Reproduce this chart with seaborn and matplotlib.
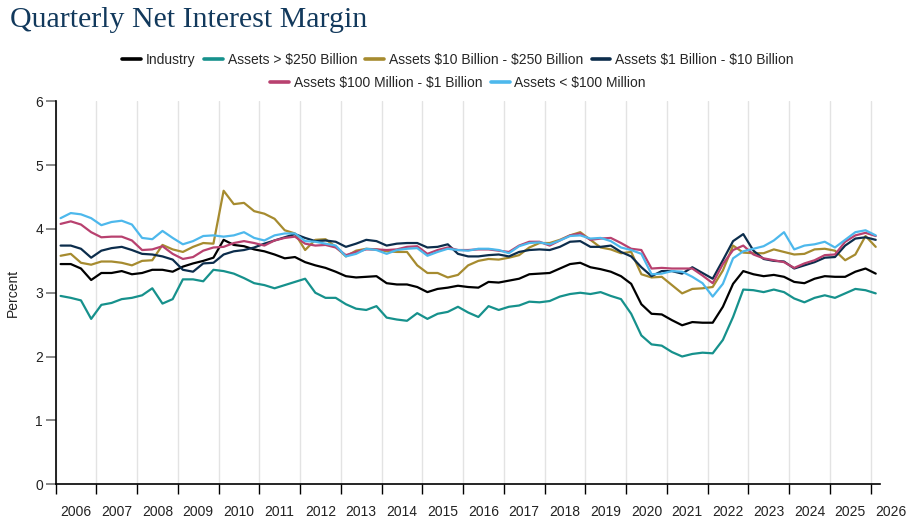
import numpy as np
import pandas as pd
import matplotlib
matplotlib.use("Agg")
import matplotlib.pyplot as plt
from matplotlib.lines import Line2D
from matplotlib.transforms import blended_transform_factory
import seaborn as sns

# quarters 2006Q1 .. 2026Q1
quarters = pd.period_range("2006Q1", "2026Q1", freq="Q")

industry = [3.45, 3.45, 3.38, 3.20, 3.31, 3.31, 3.34, 3.29, 3.31, 3.36, 3.36, 3.33, 3.41, 3.46, 3.50, 3.55, 3.83,
            3.75, 3.73, 3.68, 3.65, 3.60, 3.54, 3.56, 3.48, 3.43, 3.39, 3.33, 3.26, 3.24, 3.25, 3.26, 3.15, 3.13,
            3.13, 3.09, 3.01, 3.06, 3.08, 3.11, 3.09, 3.08, 3.17, 3.16, 3.19, 3.22, 3.29, 3.30, 3.31, 3.38, 3.45,
            3.47, 3.40, 3.37, 3.33, 3.26, 3.14, 2.82, 2.67, 2.66, 2.57, 2.49, 2.54, 2.53, 2.53, 2.78, 3.14,
            3.34, 3.29, 3.26, 3.28, 3.25, 3.17, 3.15, 3.22, 3.26, 3.25, 3.25, 3.33, 3.38, 3.30]

over_250b = [2.95, 2.92, 2.88, 2.59, 2.81, 2.84, 2.90, 2.92, 2.96, 3.07, 2.83, 2.90, 3.21, 3.21, 3.18, 3.36, 3.34,
             3.30, 3.23, 3.15, 3.12, 3.07, 3.12, 3.17, 3.22, 3.00, 2.92, 2.92, 2.82, 2.75, 2.73, 2.79, 2.61, 2.58,
             2.56, 2.68, 2.59, 2.67, 2.70, 2.78, 2.69, 2.62, 2.79, 2.73, 2.78, 2.80, 2.86, 2.85, 2.87, 2.94, 2.98,
             3.00, 2.98, 3.01, 2.95, 2.90, 2.67, 2.33, 2.19, 2.17, 2.07, 2.00, 2.04, 2.06, 2.05, 2.26, 2.62,
             3.05, 3.04, 3.01, 3.05, 3.01, 2.91, 2.85, 2.92, 2.96, 2.92, 2.99, 3.06, 3.04, 2.99]

b10_250 = [3.58, 3.61, 3.47, 3.44, 3.49, 3.49, 3.47, 3.43, 3.50, 3.51, 3.75, 3.68, 3.64, 3.72, 3.78, 3.77, 4.60,
           4.39, 4.41, 4.28, 4.24, 4.16, 3.98, 3.93, 3.67, 3.83, 3.84, 3.72, 3.57, 3.66, 3.69, 3.68, 3.65, 3.64,
           3.64, 3.43, 3.31, 3.31, 3.24, 3.28, 3.43, 3.50, 3.53, 3.52, 3.55, 3.59, 3.71, 3.78, 3.78, 3.83, 3.90,
           3.95, 3.83, 3.71, 3.68, 3.62, 3.64, 3.29, 3.24, 3.25, 3.12, 2.99, 3.06, 3.07, 3.09, 3.35, 3.74,
           3.63, 3.62, 3.62, 3.68, 3.64, 3.60, 3.61, 3.68, 3.69, 3.66, 3.51, 3.60, 3.89, 3.72]

b1_10 = [3.74, 3.74, 3.69, 3.55, 3.66, 3.70, 3.72, 3.67, 3.61, 3.60, 3.57, 3.52, 3.36, 3.33, 3.46, 3.47, 3.60,
         3.65, 3.67, 3.71, 3.77, 3.82, 3.87, 3.92, 3.86, 3.81, 3.82, 3.80, 3.72, 3.77, 3.83, 3.81, 3.74, 3.77,
         3.78, 3.78, 3.71, 3.72, 3.76, 3.61, 3.57, 3.57, 3.59, 3.60, 3.57, 3.64, 3.67, 3.68, 3.67, 3.72, 3.80,
         3.81, 3.72, 3.72, 3.74, 3.64, 3.57, 3.40, 3.26, 3.34, 3.34, 3.30, 3.40, 3.31, 3.22, 3.51, 3.81,
         3.92, 3.66, 3.53, 3.50, 3.49, 3.38, 3.43, 3.48, 3.55, 3.56, 3.74, 3.85, 3.87, 3.83]

m100_1b = [4.08, 4.12, 4.07, 3.95, 3.87, 3.88, 3.88, 3.82, 3.67, 3.68, 3.73, 3.61, 3.53, 3.56, 3.66, 3.71, 3.72,
           3.78, 3.81, 3.78, 3.74, 3.82, 3.86, 3.88, 3.77, 3.74, 3.75, 3.71, 3.59, 3.64, 3.68, 3.68, 3.67, 3.68,
           3.72, 3.73, 3.61, 3.67, 3.71, 3.67, 3.67, 3.68, 3.68, 3.66, 3.64, 3.74, 3.80, 3.80, 3.74, 3.82, 3.90,
           3.93, 3.83, 3.85, 3.86, 3.78, 3.69, 3.67, 3.38, 3.39, 3.38, 3.38, 3.38, 3.27, 3.15, 3.45, 3.67,
           3.74, 3.60, 3.54, 3.51, 3.48, 3.39, 3.46, 3.51, 3.59, 3.60, 3.80, 3.90, 3.94, 3.89]

under_100m = [4.17, 4.25, 4.23, 4.17, 4.06, 4.11, 4.13, 4.07, 3.86, 3.84, 3.97, 3.86, 3.76, 3.81, 3.89, 3.90, 3.88,
              3.90, 3.95, 3.86, 3.82, 3.90, 3.93, 3.93, 3.81, 3.80, 3.77, 3.74, 3.57, 3.61, 3.69, 3.67, 3.61, 3.67,
              3.69, 3.70, 3.58, 3.64, 3.69, 3.67, 3.66, 3.69, 3.69, 3.67, 3.62, 3.73, 3.78, 3.79, 3.76, 3.82, 3.89,
              3.90, 3.85, 3.86, 3.81, 3.71, 3.67, 3.61, 3.29, 3.30, 3.34, 3.33, 3.25, 3.15, 2.94, 3.14, 3.54,
              3.65, 3.69, 3.73, 3.82, 3.95, 3.68, 3.74, 3.76, 3.80, 3.71, 3.83, 3.95, 3.98, 3.90]

series_names = ["Industry", "Assets > $250 Billion", "Assets $10 Billion - $250 Billion",
                "Assets $1 Billion - $10 Billion", "Assets $100 Million - $1 Billion", "Assets < $100 Million"]
series_values = [industry, over_250b, b10_250, b1_10, m100_1b, under_100m]
colors = ["#000000", "#16918c", "#a68b2f", "#0c2d4c", "#b8416f", "#4db8ec"]
years = list(range(2006, 2027))

# mid-quarter position on a year axis
xpos = quarters.year + (quarters.quarter - 0.5) / 4

df = pd.concat([pd.DataFrame({"x": xpos, "value": v, "series": n})
                for n, v in zip(series_names, series_values)], ignore_index=True)

sns.set_theme(style="white")
plt.rcParams["font.family"] = ["Liberation Sans", "DejaVu Sans"]

fig = plt.figure(figsize=(9.09, 5.23), dpi=100)
ax = fig.add_axes([55.5 / 909, 1 - 484 / 523, 824.5 / 909, 382.5 / 523])

sns.lineplot(data=df, x="x", y="value", hue="series", hue_order=series_names,
             palette=dict(zip(series_names, colors)), linewidth=1.6, legend=False, ax=ax)

ax.set_xlim(2006, 2026.23)
ax.set_ylim(0, 6)
ax.set_xticks(years)
ax.set_xticklabels([])
ax.set_yticks(range(0, 7))
ax.grid(axis="x", color="#e3e3e3", linewidth=1)
ax.grid(axis="y", visible=False)
ax.tick_params(axis="x", direction="out", length=7, width=1, color="black", bottom=True)
ax.tick_params(axis="y", direction="out", length=7, width=1.4, color="#888888", left=True,
               labelsize=10, labelcolor="#222222", pad=2)
for s in ["top", "right"]:
    ax.spines[s].set_visible(False)
for s in ["left", "bottom"]:
    ax.spines[s].set_color("black")
    ax.spines[s].set_linewidth(1.2)

trans = blended_transform_factory(ax.transData, ax.transAxes)
for yr in years:
    ax.text(yr + 0.5, -0.072, str(yr), transform=trans, ha="center", va="center",
            fontsize=10, color="#222222", clip_on=False)

ax.set_xlabel("")
ax.set_ylabel("Percent", fontsize=10, color="#222222")
ax.yaxis.set_label_coords(-0.043, 0.5)

fig.text(0.011, 1 - 27 / 523, "Quarterly Net Interest Margin", family=["Liberation Serif", "DejaVu Serif"],
         fontsize=21.5, color="#12395c", va="baseline", ha="left")

# escape the dollar signs so they are not read as math
legend_labels = [n.replace("$", r"\$") for n in series_names]
handles = [Line2D([0], [0], color=c, linewidth=2.6) for c in colors]
leg_kw = dict(frameon=False, fontsize=10, handlelength=1.35, handletextpad=0.35,
              columnspacing=0.6, borderaxespad=0, borderpad=0)
fig.legend(handles[:4], legend_labels[:4], loc="center", bbox_to_anchor=(0.504, 1 - 60 / 523),
           ncol=4, **leg_kw)
fig.legend(handles[4:], legend_labels[4:], loc="center", bbox_to_anchor=(0.504, 1 - 83 / 523),
           ncol=2, **leg_kw)

fig.savefig("out.png", dpi=100)
